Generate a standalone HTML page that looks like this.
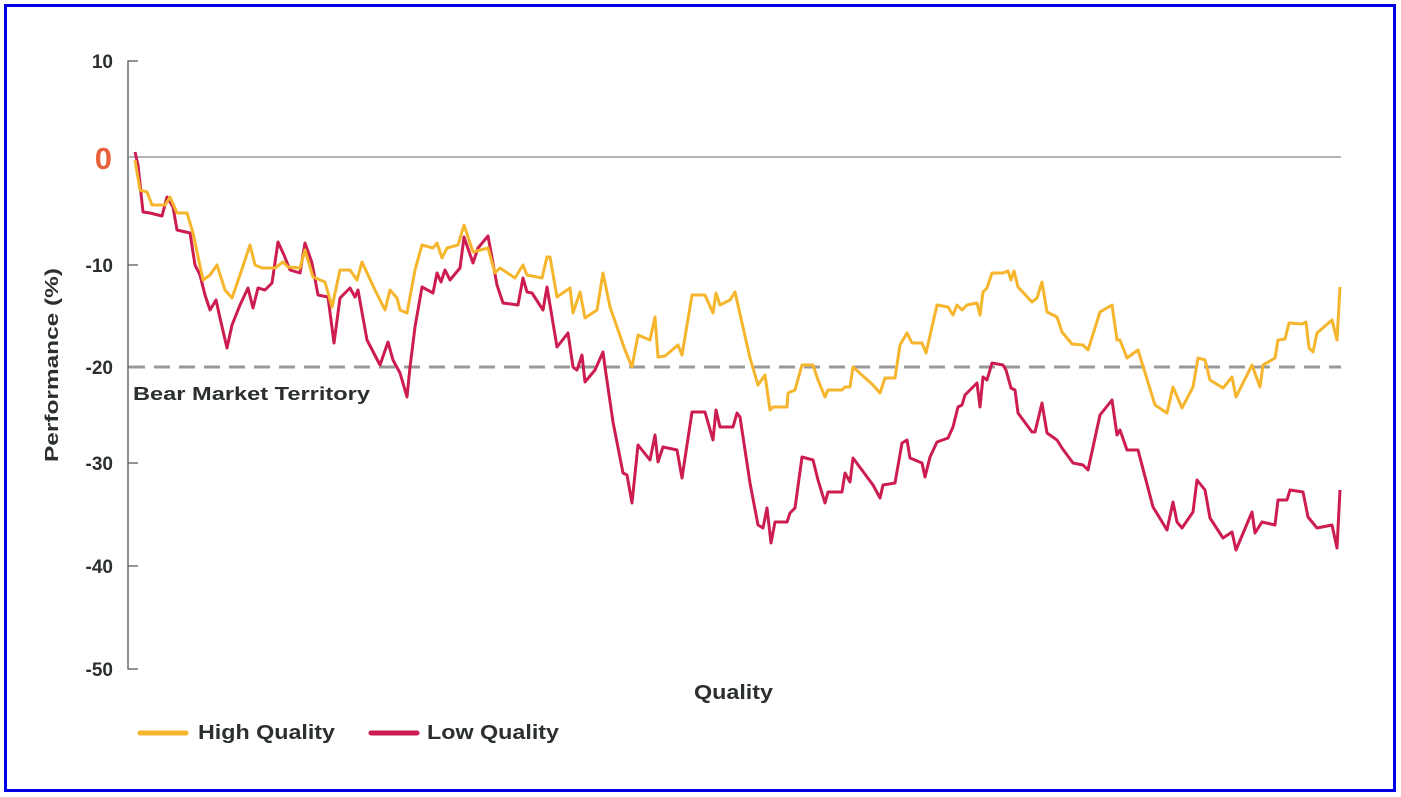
<!DOCTYPE html>
<html><head><meta charset="utf-8"><style>
html,body{margin:0;padding:0;background:#fff;}
svg{display:block;}
text{font-family:"Liberation Sans",sans-serif;font-weight:bold;fill:#2b2f2f;}
</style></head><body>
<svg width="1401" height="797" viewBox="0 0 1401 797" xmlns="http://www.w3.org/2000/svg">
<rect x="0" y="0" width="1401" height="797" fill="#fff"/>
<rect x="5.5" y="5.5" width="1389" height="785" fill="none" stroke="#0000e6" stroke-width="3"/>
<path d="M138 61 H128 V669 H138" fill="none" stroke="#555" stroke-width="1.3"/>
<path d="M128 265 H138 M128 367 H138 M128 463 H138 M128 566 H138" stroke="#555" stroke-width="1.3"/>
<line x1="128" y1="157" x2="1341" y2="157" stroke="#888" stroke-width="1.3"/>
<line x1="129" y1="367" x2="1341" y2="367" stroke="#999" stroke-width="3" stroke-dasharray="16,9"/>
<g font-size="19" text-anchor="end">
<text x="113" y="68">10</text>
<text x="113" y="272">-10</text>
<text x="113" y="374">-20</text>
<text x="113" y="470">-30</text>
<text x="113" y="573">-40</text>
<text x="113" y="676">-50</text>
</g>
<text x="112" y="169" font-size="31" text-anchor="end" style="fill:#e8613a">0</text>
<text x="133" y="400" font-size="18" textLength="237" lengthAdjust="spacingAndGlyphs">Bear Market Territory</text>
<text transform="translate(58,365) rotate(-90)" font-size="18" text-anchor="middle" textLength="194" lengthAdjust="spacingAndGlyphs">Performance (%)</text>
<text x="694" y="699" font-size="20" textLength="79" lengthAdjust="spacingAndGlyphs">Quality</text>
<line x1="140" y1="733" x2="186" y2="733" stroke="#f5b52c" stroke-width="5" stroke-linecap="round"/>
<text x="198" y="739" font-size="20" textLength="137" lengthAdjust="spacingAndGlyphs">High Quality</text>
<line x1="371" y1="733" x2="417" y2="733" stroke="#cc1c50" stroke-width="5" stroke-linecap="round"/>
<text x="427" y="739" font-size="20" textLength="132" lengthAdjust="spacingAndGlyphs">Low Quality</text>
<polyline fill="none" stroke="#cc1c50" stroke-width="3" stroke-linejoin="round" points="135,152 138,165 143,212 150,213 162,216 167,197 173,207 177,230 190,233 195,265 200,275 205,295 210,310 216,300 220,318 227,348 232,325 240,305 248,288 253,308 258,288 265,290 272,283 278,242 284,255 290,270 300,273 305,243 312,263 318,295 328,297 334,343 340,298 350,288 355,297 358,290 367,340 380,365 388,342 393,360 400,373 407,397 410,367 415,327 422,287 433,293 437,273 441,282 445,270 450,280 460,268 464,237 473,263 478,248 488,236 497,285 503,303 518,305 523,278 527,292 532,293 543,310 547,287 557,347 568,333 573,367 577,370 582,355 585,382 595,370 603,352 605,367 613,422 623,473 627,475 632,503 638,445 650,460 655,435 658,462 663,447 677,450 682,478 692,412 705,412 713,440 716,410 720,427 733,427 737,413 740,417 750,483 758,525 763,528 767,508 771,543 775,522 787,522 790,513 795,508 802,457 813,460 818,480 825,503 828,492 842,492 845,473 850,482 853,458 873,485 880,498 883,485 895,483 902,443 907,440 910,458 922,463 925,477 930,457 937,442 948,438 953,427 958,407 962,405 965,395 977,383 980,407 983,377 987,380 992,363 1003,365 1006,370 1011,388 1015,390 1018,413 1032,432 1035,432 1042,403 1047,433 1057,440 1062,448 1073,463 1083,465 1088,470 1100,415 1112,400 1117,435 1120,430 1127,450 1138,450 1153,507 1167,530 1173,502 1177,522 1182,528 1193,512 1197,480 1205,490 1210,518 1223,538 1232,532 1236,550 1252,512 1255,533 1262,522 1275,525 1278,500 1287,500 1290,490 1303,492 1308,517 1317,528 1332,525 1337,548 1340,490"/>
<polyline fill="none" stroke="#f5b52c" stroke-width="3" stroke-linejoin="round" points="135,160 140,190 147,192 152,205 165,205 170,197 177,213 187,213 193,233 203,280 210,275 217,265 225,290 232,298 240,275 250,245 255,265 262,268 275,268 283,262 288,267 300,268 305,250 313,277 325,282 332,307 340,270 350,270 357,280 362,262 375,290 385,310 390,290 397,298 400,310 407,313 415,270 422,245 433,248 437,243 442,258 447,248 458,245 464,225 473,252 488,248 495,273 500,268 515,278 523,265 527,275 542,278 547,257 550,257 557,297 570,288 573,313 580,292 585,318 597,310 603,273 610,307 625,350 632,367 638,335 650,340 655,317 658,357 665,356 678,345 682,355 692,295 705,295 713,313 716,293 720,305 730,300 735,292 750,358 758,385 765,375 770,410 773,407 787,407 788,393 795,390 802,365 813,365 818,380 825,397 828,390 842,390 845,387 850,387 853,367 873,385 880,393 885,378 895,378 900,345 907,333 912,343 922,343 926,353 937,305 948,307 953,315 957,305 962,310 967,305 977,303 980,315 983,292 987,288 992,273 1003,273 1008,271 1011,280 1014,271 1018,287 1032,302 1037,298 1042,282 1047,312 1057,317 1062,332 1072,344 1083,345 1088,350 1100,312 1112,305 1117,340 1120,340 1127,358 1138,350 1155,405 1167,413 1173,387 1182,408 1193,387 1198,358 1205,360 1210,380 1223,388 1232,377 1236,397 1252,365 1260,387 1263,365 1275,358 1278,340 1285,339 1289,323 1302,324 1306,322 1309,348 1313,352 1317,333 1332,320 1337,340 1340,287"/>
</svg>
</body></html>
